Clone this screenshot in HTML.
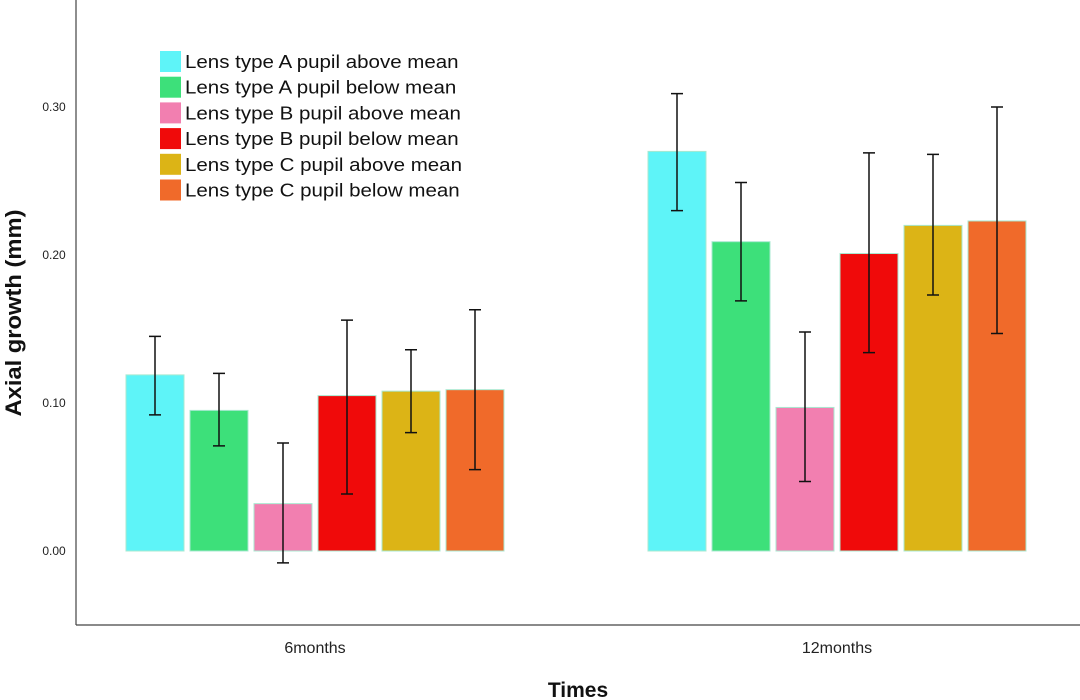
<!DOCTYPE html>
<html><head><meta charset="utf-8"><style>
body{margin:0;background:#fff;}
svg{display:block;font-family:"Liberation Sans",Arial,sans-serif;}
</style></head><body>
<svg id="chart" width="1080" height="700">
<g id="bars"></g>
<g id="axes"></g>
<g id="legend"></g>
</svg>
<script>
const categories=["6months","12months"];
const seriesNames=["Lens type A pupil above mean","Lens type A pupil below mean","Lens type B pupil above mean","Lens type B pupil below mean","Lens type C pupil above mean","Lens type C pupil below mean"];
const colors=["#5ef4f8","#3de07a","#f27fb0","#f00a0a","#dcb416","#f06a2a"];
const means=[[0.119,0.270],[0.095,0.209],[0.032,0.097],[0.105,0.201],[0.108,0.220],[0.109,0.223]];
const upper=[[0.145,0.309],[0.120,0.249],[0.073,0.148],[0.156,0.269],[0.136,0.268],[0.163,0.300]];
const lower=[[0.092,0.230],[0.071,0.169],[-0.008,0.047],[0.0385,0.134],[0.080,0.173],[0.055,0.147]];
const yTicks=[0,0.1,0.2,0.3];
const yTickLabels=["0.00","0.10","0.20","0.30"];
const NS="http://www.w3.org/2000/svg";
function y(v){return 551-v*1480;}
const groupStart=[126,648];
function x(ci,si){return groupStart[ci]+si*64;}
const BW=58;
function mk(tag,attrs,parent){const e=document.createElementNS(NS,tag);for(const k in attrs)e.setAttribute(k,attrs[k]);parent.appendChild(e);return e;}
const bars=document.getElementById('bars'),axes=document.getElementById('axes'),legend=document.getElementById('legend');
for(let s=0;s<seriesNames.length;s++){for(let c=0;c<categories.length;c++){
 const v=means[s][c];const x0=x(c,s);
 const r=mk('rect',{x:x0,y:y(v),width:BW,height:y(0)-y(v),fill:colors[s],stroke:'#a8e8d0','stroke-width':1},bars);
 
 
 const cx=x0+BW/2;
 const eb=mk('path',{d:`M${cx},${y(upper[s][c])}V${y(lower[s][c])}M${cx-6},${y(upper[s][c])}H${cx+6}M${cx-6},${y(lower[s][c])}H${cx+6}`,stroke:'#111','stroke-width':1.5,fill:'none'},bars);
 
 
}}
mk('line',{x1:76,y1:0,x2:76,y2:625,stroke:'#444','stroke-width':1.2},axes);
mk('line',{x1:76,y1:625,x2:1080,y2:625,stroke:'#444','stroke-width':1.2},axes);
for(let i=0;i<yTicks.length;i++){
 const t=mk('text',{x:54,y:y(yTicks[i])+4,'font-size':12,'text-anchor':'middle',fill:'#222'},axes);
 t.textContent=yTickLabels[i];
 
 
}
for(let c=0;c<categories.length;c++){
 const t=mk('text',{x:x(c,0)+(6*64-6)/2,y:653,'font-size':16,'text-anchor':'middle',fill:'#222'},axes);
 t.textContent=categories[c];
 
 
}
const xt=mk('text',{x:578,y:697,'font-size':21,'font-weight':'bold','text-anchor':'middle',fill:'#111'},axes);
xt.textContent="Times";


const yt=mk('text',{x:0,y:0,'font-size':22,'font-weight':'bold','text-anchor':'middle',fill:'#111',textLength:207,lengthAdjust:'spacingAndGlyphs',transform:'translate(21,313) rotate(-90)'},axes);
yt.textContent="Axial growth (mm)";


for(let s=0;s<seriesNames.length;s++){
 const yy=51+s*25.7;
 const sw=mk('rect',{x:160,y:yy,width:21,height:21,fill:colors[s]},legend);
 
 
 const t=mk('text',{x:185,y:yy+17,'font-size':18.5,fill:'#111'},legend);
 t.textContent=seriesNames[s];
 
 
 const w=t.getComputedTextLength();
 t.setAttribute('textLength',(w*17.5/18.5*273/233).toFixed(1));
 t.setAttribute('lengthAdjust','spacingAndGlyphs');
}
</script>
</body></html>
